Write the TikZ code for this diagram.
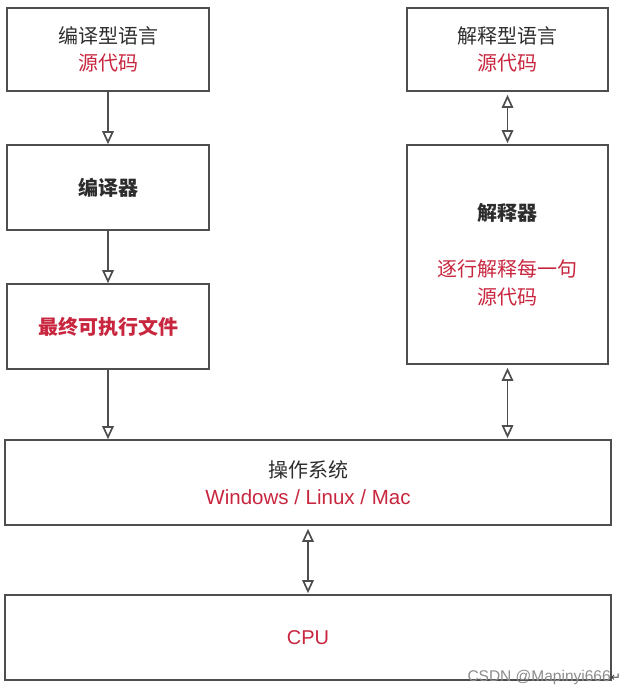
\documentclass[tikz,border=0pt]{standalone}
\usepackage{fontspec}
\setmainfont{Liberation Sans}
\newfontfamily\cjk{Noto Sans CJK SC}
\newfontfamily\symfont{DejaVu Sans}
\usetikzlibrary{arrows.meta}
\definecolor{boxgray}{RGB}{78,78,78}
\definecolor{txtgray}{RGB}{45,45,45}
\definecolor{srcred}{RGB}{200,38,62}
\begin{document}
\begin{tikzpicture}[x=1pt, y=-1pt, font=\fontsize{20}{27.5}\selectfont,
	>={Triangle[open, width=11.5pt, length=13pt, line width=1.7pt]},
	box/.style={draw=boxgray, line width=1.6pt, inner sep=0pt, align=center, text=txtgray},
	link/.style={draw=boxgray, line width=1.6pt}]
	%frame
	\useasboundingbox (0,0) rectangle (621,693);
	%compiled side
	\node[box, minimum width=202pt, minimum height=83pt] (srcA) at (108,49.5)
	{\cjk 编译型语言\\{\cjk\color{srcred}源代码}};
	\node[box, minimum width=202pt, minimum height=85pt] (compiler) at (108,187.5)
	{\cjk\bfseries 编译器};
	\node[box, minimum width=202pt, minimum height=85pt] (exe) at (108,326.5)
	{\cjk\bfseries\color{srcred}最终可执行文件};
	%interpreted side
	\node[box, minimum width=201pt, minimum height=83pt] (srcB) at (507.5,49.5)
	{\cjk 解释型语言\\{\cjk\color{srcred}源代码}};
	\node[box, minimum width=201pt, minimum height=219pt] (interp) at (507.5,254.5)
	{\cjk\bfseries 解释器\\[29pt]{\cjk\color{srcred}逐行解释每一句}\\{\cjk\color{srcred}源代码}};
	%system
	\node[box, minimum width=606pt, minimum height=85pt] (os) at (308,482.5)
	{\cjk 操作系统\\{\fontsize{20.5}{27.5}\selectfont\color{srcred}Windows / Linux / Mac}};
	\node[box, minimum width=606pt, minimum height=85pt] (cpu) at (308,637.5)
	{\color{srcred}CPU};
	%links
	\draw[link, ->] (srcA) -- (compiler);
	\draw[link, ->] (compiler) -- (exe);
	\draw[link, ->] (exe.south) -- (exe.south |- os.north);
	\draw[link, <->, shorten <=3pt, shorten >=1pt] (srcB) -- (interp);
	\draw[link, <->, shorten <=3pt, shorten >=1pt] (interp.south) -- (interp.south |- os.north);
	\draw[link, <->, shorten <=3pt, shorten >=1pt] (os.south) -- (cpu.north);
	%watermark
	\node[anchor=base east, inner sep=0pt, text=gray!90, font=\fontsize{15.5}{18}\selectfont] (mark) at (621,681)
	{CSDN @Mapinyi666{\symfont\fontsize{12}{13}\selectfont\color{darkgray}↵}};
\end{tikzpicture}
\end{document}
